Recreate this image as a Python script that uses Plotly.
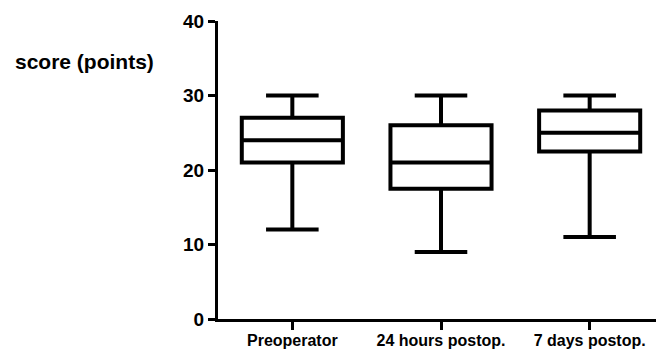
import plotly.graph_objects as go

categories = ["Preoperator", "24 hours postop.", "7 days postop."]
mins = [12, 9, 11]
q1s = [21, 17.5, 22.5]
medians = [24, 21, 25]
q3s = [27, 26, 28]
maxs = [30, 30, 30]
y_ticks = [0, 10, 20, 30, 40]

fig = go.Figure()
fig.add_trace(go.Box(
    x=categories,
    lowerfence=mins, q1=q1s, median=medians, q3=q3s, upperfence=maxs,
    fillcolor="white",
    line=dict(color="black", width=4),
    whiskerwidth=0.52,
    width=0.68,
    boxpoints=False,
    showlegend=False,
    hoverinfo="skip",
))

fig.update_layout(
    width=656, height=346,
    margin=dict(l=210, r=0, t=13, b=35),
    plot_bgcolor="white", paper_bgcolor="white",
    font=dict(family="Liberation Sans, Arial, sans-serif", color="black"),
    xaxis=dict(
        type="category", range=[-0.5, 2.5], automargin=False,
        showline=True, linecolor="black", linewidth=3,
        ticks="outside", ticklen=8, tickwidth=3, tickcolor="black",
        ticklabelstandoff=-3,
        tickfont=dict(size=16, family="Liberation Sans, Arial, sans-serif", weight="bold"),
        showgrid=False, zeroline=False, fixedrange=True,
    ),
    yaxis=dict(
        range=[0, 40], tickvals=y_ticks, automargin=False,
        showline=True, linecolor="black", linewidth=3,
        ticks="outside", ticklen=7, tickwidth=3, tickcolor="black",
        tickfont=dict(size=19, family="Liberation Sans, Arial, sans-serif", weight="bold"),
        showgrid=False, zeroline=False, fixedrange=True,
    ),
    annotations=[dict(
        text="<b>score (points)</b>", xref="paper", yref="paper",
        x=(84-218)/446, y=(319-62)/298, xanchor="center", yanchor="middle",
        showarrow=False, font=dict(size=21, family="Liberation Sans, Arial, sans-serif"),
    )],
)

fig.write_html("out.html")
